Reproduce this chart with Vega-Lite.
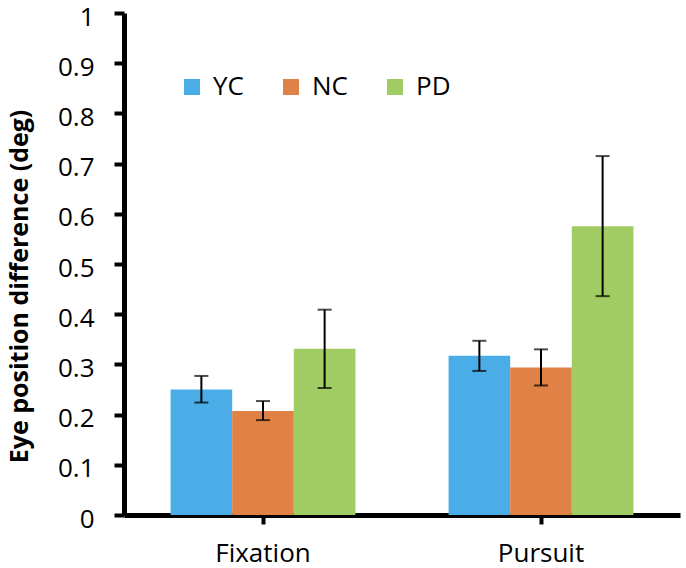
{
  "$schema": "https://vega.github.io/schema/vega-lite/v6.json",
  "autosize": {"type": "none"},
  "padding": {"left": 124, "top": 13, "right": 6, "bottom": 53},
  "width": 556,
  "height": 502,
  "background": "white",
  "config": {
    "view": {"stroke": null},
    "font": "Open Sans",
    "axis": {"grid": false, "domainColor": "black", "tickColor": "black", "labelColor": "black", "titleColor": "black", "labelFont": "Open Sans", "titleFont": "Open Sans"}
  },
  "data": {
    "values": [
      {"task": "Fixation", "group": "YC", "mean": 0.25, "lo": 0.224, "hi": 0.277},
      {"task": "Fixation", "group": "NC", "mean": 0.207, "lo": 0.189, "hi": 0.227},
      {"task": "Fixation", "group": "PD", "mean": 0.331, "lo": 0.253, "hi": 0.409},
      {"task": "Pursuit", "group": "YC", "mean": 0.317, "lo": 0.287, "hi": 0.347},
      {"task": "Pursuit", "group": "NC", "mean": 0.294, "lo": 0.258, "hi": 0.33},
      {"task": "Pursuit", "group": "PD", "mean": 0.575, "lo": 0.436, "hi": 0.715}
    ]
  },
  "encoding": {
    "x": {
      "field": "task", "type": "nominal",
      "scale": {"paddingInner": 0.335, "paddingOuter": 0.1675},
      "axis": {"title": null, "labelAngle": 0, "labelFontSize": 26, "labelPadding": 16, "domainWidth": 5, "tickWidth": 4, "tickSize": 9, "tickBand": "center"}
    },
    "xOffset": {"field": "group", "type": "nominal", "sort": ["YC", "NC", "PD"], "scale": {"paddingInner": 0, "paddingOuter": 0}}
  },
  "layer": [
    {
      "mark": {"type": "bar"},
      "encoding": {
        "y": {
          "field": "mean", "type": "quantitative",
          "scale": {"domain": [0, 1], "nice": false},
          "axis": {
            "title": "Eye position difference (deg)",
            "values": [0, 0.1, 0.2, 0.3, 0.4, 0.5, 0.6, 0.7, 0.8, 0.9, 1],
            "format": "~g",
            "labelFontSize": 26, "labelPadding": 20, "labelOffset": 4, "tickSize": 10, "tickWidth": 4, "domainWidth": 5,
            "titleFontSize": 25, "titleFontWeight": "bold",
            "titleX": -105, "titleY": 273, "titleAngle": -90, "titleAlign": "center", "titleBaseline": "middle"
          }
        },
        "color": {
          "field": "group", "type": "nominal", "sort": ["YC", "NC", "PD"],
          "scale": {"domain": ["YC", "NC", "PD"], "range": ["#4BADE8", "#E08245", "#A1CB63"]},
          "legend": {
            "title": null, "orient": "none", "direction": "horizontal",
            "legendX": 55, "legendY": 61,
            "symbolType": "square", "symbolSize": 256, "symbolStrokeWidth": 0, "symbolOpacity": 1,
            "labelFontSize": 26, "labelFont": "Open Sans", "labelColor": "black", "labelOffset": 8,
            "columnPadding": 34, "padding": 0
          }
        }
      }
    },
    {
      "mark": {"type": "rule", "color": "black", "strokeWidth": 2},
      "encoding": {
        "y": {"field": "lo", "type": "quantitative"},
        "y2": {"field": "hi"}
      }
    },
    {
      "mark": {"type": "tick", "color": "black", "thickness": 2, "size": 14, "orient": "horizontal"},
      "encoding": {"y": {"field": "lo", "type": "quantitative"}}
    },
    {
      "mark": {"type": "tick", "color": "black", "thickness": 2, "size": 14, "orient": "horizontal"},
      "encoding": {"y": {"field": "hi", "type": "quantitative"}}
    }
  ]
}
